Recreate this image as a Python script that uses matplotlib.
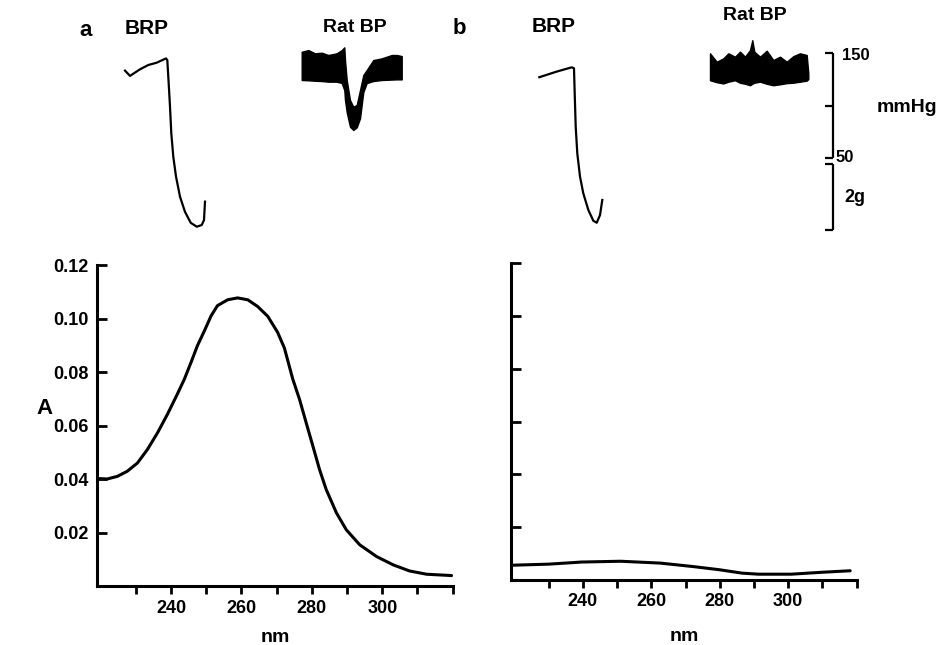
import matplotlib
matplotlib.use("Agg")
import matplotlib.pyplot as plt

plt.rcParams["font.family"] = ["Liberation Sans", "DejaVu Sans"]
plt.rcParams["font.weight"] = "bold"

# absorbance spectra
nm_a = [219.1, 221.9, 224.8, 227.6, 230.5, 233.3, 236.2, 239.0, 241.8, 243.8,
        245.7, 247.5, 249.5, 251.4, 253.2, 256.1, 258.9, 261.8, 264.6, 267.5,
        270.3, 272.2, 274.6, 276.5, 278.4, 280.3, 282.2, 284.1, 287.0, 289.8,
        293.6, 298.4, 303.1, 307.8, 312.6, 319.7]
abs_a = [0.0402, 0.0400, 0.0410, 0.0429, 0.0460, 0.0510, 0.0573, 0.0642, 0.0717, 0.0773,
         0.0836, 0.0898, 0.0954, 0.1010, 0.1048, 0.1070, 0.1077, 0.1070, 0.1045, 0.1008,
         0.0948, 0.0890, 0.0773, 0.0698, 0.0610, 0.0523, 0.0435, 0.0360, 0.0273, 0.0210,
         0.0154, 0.0110, 0.0079, 0.0056, 0.0044, 0.0039]
nm_b = [219.5, 230, 239.6, 251, 262.6, 272.1, 279.8, 286.5, 291.3, 300.9, 309.5, 318.1]
abs_b = [0.0056, 0.0060, 0.0068, 0.0071, 0.0064, 0.0051, 0.0039, 0.0026, 0.0022,
         0.0022, 0.0029, 0.0035]

x_major = [240, 260, 280, 300]
x_minor = [230, 250, 270, 290, 310, 320]
y_ticks = [0.02, 0.04, 0.06, 0.08, 0.10, 0.12]
y_labels = ["0.02", "0.04", "0.06", "0.08", "0.10", "0.12"]

# chart recordings, time in s (chart paper ~10 px per s)
brp_a_t = [12.5, 13.0, 14.0, 14.83, 15.67, 16.6, 16.73, 16.87, 17.0, 17.13, 17.33, 17.6,
           18.0, 18.5, 19.07, 19.67, 20.17, 20.4, 20.5]
brp_a_g = [4.83, 4.67, 4.87, 5.00, 5.07, 5.20, 5.15, 4.44, 3.74, 2.93, 2.22, 1.62,
           1.01, 0.55, 0.22, 0.10, 0.15, 0.30, 0.86]
brp_b_t = [53.93, 55.67, 57.17, 57.4, 57.47, 57.57, 57.73, 58.0, 58.33, 58.83, 59.33,
           59.67, 60.0, 60.23]
brp_b_g = [4.63, 4.80, 4.93, 4.90, 4.14, 3.13, 2.32, 1.62, 1.11, 0.61, 0.28, 0.22,
           0.45, 0.91]

bp_a_t = [30.17, 30.83, 31.5, 32.17, 32.83, 33.67, 34.17, 34.43, 34.5, 34.67, 35.0,
          35.33, 35.67, 36.0, 36.33, 36.67, 37.33, 38.17, 39.17, 39.67, 40.17]
bp_a_hi = [151.5, 153.1, 150.0, 150.6, 148.4, 150.0, 153.1, 155.7, 143.6, 124.6, 105.5,
           99.1, 100.8, 115.0, 129.3, 134.1, 143.6, 145.2, 148.4, 148.4, 147.4]
bp_a_lo = [124.6, 124.3, 123.9, 123.6, 123.0, 123.0, 121.7, 115.0, 105.5, 94.1, 80.1,
           77.0, 79.5, 88.1, 113.1, 121.7, 123.6, 124.6, 125.0, 125.2, 125.2]
bp_b_t = [71.0, 71.67, 72.33, 72.83, 73.5, 74.0, 74.5, 75.0, 75.23, 75.43, 76.0, 76.67,
          77.33, 78.0, 78.67, 79.33, 80.0, 80.67, 80.83]
bp_b_hi = [150.0, 142.0, 145.2, 150.0, 146.8, 151.6, 146.8, 153.1, 162.5, 151.6, 146.8,
           152.5, 143.6, 146.8, 142.0, 147.3, 150.0, 148.4, 131.0]
bp_b_lo = [124.4, 122.5, 121.3, 123.0, 124.4, 122.0, 121.0, 119.6, 121.0, 122.0, 123.0,
           121.0, 119.6, 120.5, 121.6, 122.0, 123.0, 124.0, 125.5]

W, H = 945, 645
fig = plt.figure(figsize=(W / 100, H / 100), dpi=100)


def px_axes(l, t, r, b):
    return fig.add_axes([l / W, 1 - b / H, (r - l) / W, (b - t) / H])


def ftext(x, y, s, size, ha="center"):
    fig.text(x / W, 1 - y / H, s, fontsize=size, fontweight="bold", ha=ha, va="center")


def spectrum(ax, nm, ab, labels, tickpad, labpad):
    ax.plot(nm, ab, color="black", lw=2.2, solid_capstyle="round", solid_joinstyle="round")
    ax.set_xlim(219, 320)
    ax.set_ylim(0, 0.12)
    for s in ["top", "right"]:
        ax.spines[s].set_visible(False)
    for s in ["left", "bottom"]:
        ax.spines[s].set_linewidth(2.2)
    ax.set_xticks(x_major)
    ax.set_xticks(x_minor, minor=True)
    ax.set_xticklabels([str(v) for v in x_major])
    ax.tick_params(axis="x", which="both", direction="out", length=6, width=2,
                   labelsize=13, pad=tickpad)
    ax.set_yticks(y_ticks)
    if labels:
        ax.set_yticklabels(y_labels)
    else:
        ax.set_yticklabels([])
    ax.tick_params(axis="y", direction="in", length=7, width=2, labelsize=13, pad=6)
    ax.set_xlabel("nm", fontsize=14, fontweight="bold", labelpad=labpad)


ax_a = px_axes(97, 265, 452.7, 586)
spectrum(ax_a, nm_a, abs_a, True, 4, 9)
ax_b = px_axes(511, 263, 856.7, 580)
spectrum(ax_b, nm_b, abs_b, False, 3, 13)

# recordings strip: mmHg on one axis, g on a twin
rec = px_axes(0, 0, W, 240)
rec.set_xlim(0, 94.5)
rec.set_ylim(-27.8, 200.8)
rec.set_axis_off()
rec_g = rec.twinx()
rec_g.set_ylim(-0.303, 6.97)
rec_g.set_axis_off()

rec_g.plot(brp_a_t, brp_a_g, color="black", lw=1.6, solid_joinstyle="round")
rec_g.plot(brp_b_t, brp_b_g, color="black", lw=1.6, solid_joinstyle="round")
rec.fill_between(bp_a_t, bp_a_lo, bp_a_hi, color="black", lw=1)
rec.fill_between(bp_b_t, bp_b_lo, bp_b_hi, color="black", lw=1)

# calibration bars
rec.vlines(83.3, 50, 150, color="black", lw=1.6)
rec.hlines([50, 100, 150], 82.5, 83.3, color="black", lw=1.6)
rec_g.vlines(83.3, 0, 2, color="black", lw=1.6)
rec_g.hlines([0, 2], 82.5, 83.3, color="black", lw=1.6)

ftext(86, 30, "a", 16)
ftext(147, 29, "BRP", 15)
ftext(355, 27, "Rat BP", 14)
ftext(459, 28, "b", 16)
ftext(554, 26, "BRP", 15)
ftext(755, 16, "Rat BP", 14)
ftext(842, 56, "150", 12, ha="left")
ftext(877, 108, "mmHg", 14, ha="left")
ftext(836, 157, "50", 12, ha="left")
ftext(844, 197, "2g", 13, ha="left")
ftext(45, 408, "A", 16)

fig.savefig("out.png", dpi=100)
